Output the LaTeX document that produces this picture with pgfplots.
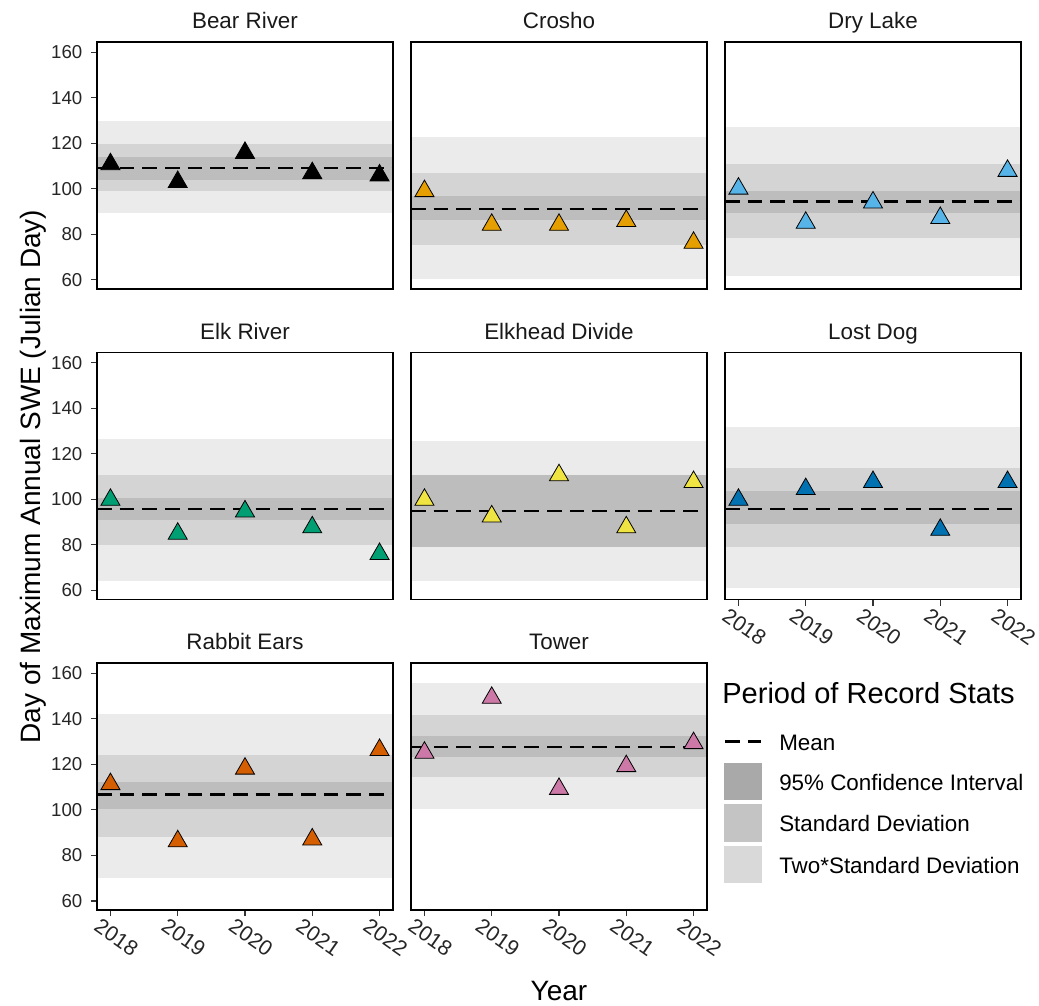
\documentclass[border=0pt]{standalone}
\usepackage{pgfplots}
\pgfplotsset{compat=1.18}
\usepackage{fontspec}
\setmainfont{Liberation Sans}
\definecolor{bandA}{HTML}{EBEBEB}
\definecolor{bandB}{HTML}{D4D4D4}
\definecolor{bandC}{HTML}{BDBDBD}
\definecolor{keyA}{HTML}{D9D9D9}
\definecolor{keyB}{HTML}{C4C4C4}
\definecolor{keyC}{HTML}{A9A9A9}
\definecolor{cBlack}{HTML}{000000}
\definecolor{cOrange}{HTML}{E69F00}
\definecolor{cSky}{HTML}{56B4E9}
\definecolor{cGreen}{HTML}{009E73}
\definecolor{cYellow}{HTML}{F0E442}
\definecolor{cBlue}{HTML}{0072B2}
\definecolor{cVerm}{HTML}{D55E00}
\definecolor{cPink}{HTML}{CC79A7}

\pgfplotsset{
  panel/.style={
    anchor=north west,
    scale only axis, width=222pt, height=185.25pt,
    xmin=2017.8, xmax=2022.2, ymin=56, ymax=164.5,
    axis on top,
    axis line style={line width=0.9pt, black},
    tick style={line width=0.9pt, black!80},
    tick align=outside, major tick length=4.5pt,
    xtick=\empty, ytick=\empty,
    title style={at={(0.5,1)}, anchor=base, yshift=4pt, font=\fontsize{16.8}{20}\selectfont, text=black!90},
    /pgf/number format/assume math mode=true,
  },
  yt/.style={
    ytick={60,80,100,120,140,160}, ytick pos=left,
    yticklabel style={font=\fontsize{14}{17}\selectfont, text=black!85, xshift=-3pt},
  },
  xt/.style={
    xtick={2018,2019,2020,2021,2022}, xtick pos=bottom,
    xticklabels={2018,2019,2020,2021,2022},
    xticklabel style={font=\fontsize{16}{19}\selectfont, text=black!85, xshift=4.5pt, yshift=-16pt, rotate=-35, anchor=center},
  },
  pts/.style={only marks, mark=triangle*, mark size=8.25pt,
    mark options={fill=#1, draw=black, line width=0.6pt}},
}
% #1 lo2  #2 hi2  #3 lo1  #4 hi1  #5 ci-lo  #6 ci-hi  #7 mean
\newcommand{\bands}[7]{%
  \addplot[draw=none, fill=bandA] coordinates {(2017.5,#1) (2022.5,#1) (2022.5,#2) (2017.5,#2)} -- cycle;
  \addplot[draw=none, fill=bandB] coordinates {(2017.5,#3) (2022.5,#3) (2022.5,#4) (2017.5,#4)} -- cycle;
  \addplot[draw=none, fill=bandC] coordinates {(2017.5,#5) (2022.5,#5) (2022.5,#6) (2017.5,#6)} -- cycle;
  \addplot[black, line width=2pt, dash pattern=on 11pt off 6pt] coordinates {(2017.8,#7) (2022.2,#7)};
}

\begin{document}
\begin{tikzpicture}[x=0.75pt,y=-0.75pt]
\useasboundingbox (0,0) rectangle (1039,1006);

% Row 1
\begin{axis}[panel, yt, at={(72.75pt,-31.5pt)}, title={Bear River}]
  \bands{89.2}{129.9}{99.0}{119.6}{103.9}{114.1}{109.1}
  \addplot[pts=cBlack] coordinates {(2018,110.8) (2019,103.0) (2020,115.8) (2021,106.9) (2022,105.9)};
\end{axis}
\begin{axis}[panel, at={(308.25pt,-31.5pt)}, title={Crosho}]
  \bands{60.3}{122.9}{75.4}{106.8}{86.3}{97.0}{91.1}
  \addplot[pts=cOrange] coordinates {(2018,99.0) (2019,84.2) (2020,84.2) (2021,85.9) (2022,76.3)};
\end{axis}
\begin{axis}[panel, at={(543.75pt,-31.5pt)}, title={Dry Lake}]
  \bands{61.5}{127.0}{78.3}{110.9}{89.2}{99.0}{94.4}
  \addplot[pts=cSky] coordinates {(2018,100.1) (2019,85.1) (2020,94.0) (2021,87.2) (2022,107.9)};
\end{axis}

% Row 2
\begin{axis}[panel, yt, at={(72.75pt,-264.375pt)}, title={Elk River}]
  \bands{64.1}{126.7}{80.1}{110.6}{91.1}{100.8}{95.8}
  \addplot[pts=cGreen] coordinates {(2018,99.8) (2019,84.9) (2020,94.7) (2021,87.7) (2022,76.0)};
\end{axis}
\begin{axis}[panel, at={(308.25pt,-264.375pt)}, title={Elkhead Divide}]
  \bands{64.1}{125.7}{79.0}{110.6}{79.0}{110.6}{94.9}
  \addplot[pts=cYellow] coordinates {(2018,99.8) (2019,92.5) (2020,110.6) (2021,87.7) (2022,107.6)};
\end{axis}
\begin{axis}[panel, xt, at={(543.75pt,-264.375pt)}, title={Lost Dog}]
  \bands{61.0}{131.8}{79.0}{113.8}{89.0}{103.7}{95.8}
  \addplot[pts=cBlue] coordinates {(2018,99.8) (2019,104.5) (2020,107.6) (2021,86.6) (2022,107.6)};
\end{axis}

% Row 3
\begin{axis}[panel, yt, xt, at={(72.75pt,-497.25pt)}, title={Rabbit Ears}]
  \bands{70.2}{142.3}{88.2}{124.1}{100.4}{112.2}{106.6}
  \addplot[pts=cVerm] coordinates {(2018,111.3) (2019,86.2) (2020,118.1) (2021,87.0) (2022,126.3)};
\end{axis}
\begin{axis}[panel, xt, at={(308.25pt,-497.25pt)}, title={Tower}]
  \bands{100.4}{155.5}{114.5}{141.6}{123.4}{132.5}{127.6}
  \addplot[pts=cPink] coordinates {(2018,125.1) (2019,149.2) (2020,109.2) (2021,119.2) (2022,129.3)};
\end{axis}

% Axis titles
\node[rotate=90, anchor=base, font=\fontsize{21}{25}\selectfont] at (40.7,476.5) {Day of Maximum Annual SWE (Julian Day)};
\node[anchor=base, font=\fontsize{21}{25}\selectfont] at (559,1000) {Year};

% Legend
\node[anchor=base west, inner sep=0pt, font=\fontsize{21.8}{26}\selectfont] at (722,703.3) {Period of Record Stats};
\draw[black, line width=2pt, dash pattern=on 11pt off 6pt] (725,741.7) -- (761,741.7);
\fill[keyC] (724,763) rectangle (762,800);
\fill[keyB] (724,804) rectangle (762,842);
\fill[keyA] (724,846) rectangle (762,883);
\begin{scope}[every node/.style={anchor=base west, inner sep=0pt, font=\fontsize{16.8}{20}\selectfont}]
\node at (779,750) {Mean};
\node at (779,790) {95\% Confidence Interval};
\node at (779,831.7) {Standard Deviation};
\node at (779,873) {Two*Standard Deviation};
\end{scope}
\end{tikzpicture}
\end{document}
